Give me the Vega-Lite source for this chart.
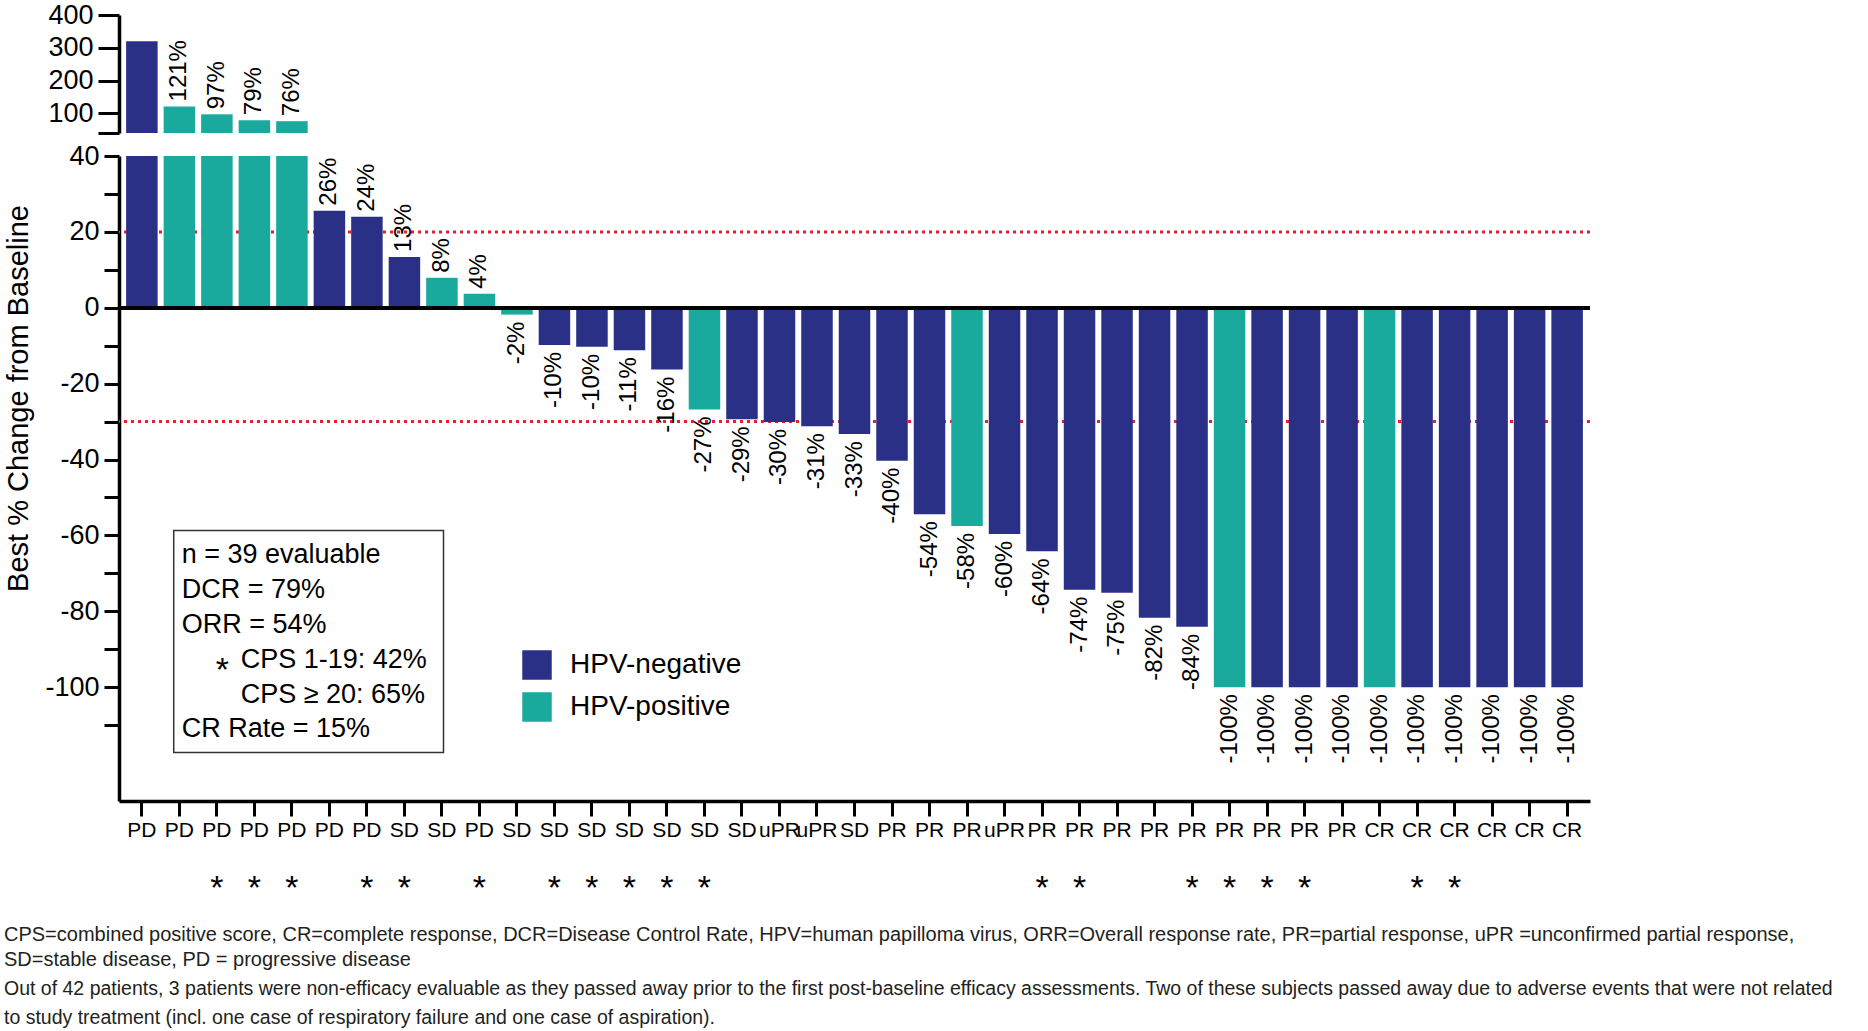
{
  "$schema": "https://vega.github.io/schema/vega-lite/v6.json",
  "background": "white",
  "padding": {"left": 3, "top": 1, "right": 4, "bottom": 4},
  "config": {
    "view": {"stroke": null},
    "font": "Liberation Sans",
    "scale": {"bandPaddingInner": 0.16, "bandPaddingOuter": 0.19},
    "axis": {"grid": false, "domainColor": "black", "tickColor": "black", "labelColor": "black", "titleColor": "black", "labelFont": "Liberation Sans", "titleFont": "Liberation Sans"},
    "text": {"font": "Liberation Sans", "color": "black"}
  },
  "data": {
    "values": [
      {"patient": 1, "value": 320, "hpv": "HPV-negative", "response": "PD", "cps": false, "label": ""},
      {"patient": 2, "value": 121, "hpv": "HPV-positive", "response": "PD", "cps": false, "label": "121%"},
      {"patient": 3, "value": 97, "hpv": "HPV-positive", "response": "PD", "cps": true, "label": "97%"},
      {"patient": 4, "value": 79, "hpv": "HPV-positive", "response": "PD", "cps": true, "label": "79%"},
      {"patient": 5, "value": 76, "hpv": "HPV-positive", "response": "PD", "cps": true, "label": "76%"},
      {"patient": 6, "value": 25.6, "hpv": "HPV-negative", "response": "PD", "cps": false, "label": "26%"},
      {"patient": 7, "value": 24, "hpv": "HPV-negative", "response": "PD", "cps": true, "label": "24%"},
      {"patient": 8, "value": 13.4, "hpv": "HPV-negative", "response": "SD", "cps": true, "label": "13%"},
      {"patient": 9, "value": 7.9, "hpv": "HPV-positive", "response": "SD", "cps": false, "label": "8%"},
      {"patient": 10, "value": 3.7, "hpv": "HPV-positive", "response": "PD", "cps": true, "label": "4%"},
      {"patient": 11, "value": -1.8, "hpv": "HPV-positive", "response": "SD", "cps": false, "label": "-2%"},
      {"patient": 12, "value": -9.8, "hpv": "HPV-negative", "response": "SD", "cps": true, "label": "-10%"},
      {"patient": 13, "value": -10.3, "hpv": "HPV-negative", "response": "SD", "cps": true, "label": "-10%"},
      {"patient": 14, "value": -11.2, "hpv": "HPV-negative", "response": "SD", "cps": true, "label": "-11%"},
      {"patient": 15, "value": -16.3, "hpv": "HPV-negative", "response": "SD", "cps": true, "label": "-16%"},
      {"patient": 16, "value": -26.8, "hpv": "HPV-positive", "response": "SD", "cps": true, "label": "-27%"},
      {"patient": 17, "value": -29.4, "hpv": "HPV-negative", "response": "SD", "cps": false, "label": "-29%"},
      {"patient": 18, "value": -30.1, "hpv": "HPV-negative", "response": "uPR", "cps": false, "label": "-30%"},
      {"patient": 19, "value": -31.2, "hpv": "HPV-negative", "response": "uPR", "cps": false, "label": "-31%"},
      {"patient": 20, "value": -33.3, "hpv": "HPV-negative", "response": "SD", "cps": false, "label": "-33%"},
      {"patient": 21, "value": -40.3, "hpv": "HPV-negative", "response": "PR", "cps": false, "label": "-40%"},
      {"patient": 22, "value": -54.4, "hpv": "HPV-negative", "response": "PR", "cps": false, "label": "-54%"},
      {"patient": 23, "value": -57.5, "hpv": "HPV-positive", "response": "PR", "cps": false, "label": "-58%"},
      {"patient": 24, "value": -59.6, "hpv": "HPV-negative", "response": "uPR", "cps": false, "label": "-60%"},
      {"patient": 25, "value": -64.2, "hpv": "HPV-negative", "response": "PR", "cps": true, "label": "-64%"},
      {"patient": 26, "value": -74.3, "hpv": "HPV-negative", "response": "PR", "cps": true, "label": "-74%"},
      {"patient": 27, "value": -75.1, "hpv": "HPV-negative", "response": "PR", "cps": false, "label": "-75%"},
      {"patient": 28, "value": -81.7, "hpv": "HPV-negative", "response": "PR", "cps": false, "label": "-82%"},
      {"patient": 29, "value": -84.1, "hpv": "HPV-negative", "response": "PR", "cps": true, "label": "-84%"},
      {"patient": 30, "value": -100, "hpv": "HPV-positive", "response": "PR", "cps": true, "label": "-100%"},
      {"patient": 31, "value": -100, "hpv": "HPV-negative", "response": "PR", "cps": true, "label": "-100%"},
      {"patient": 32, "value": -100, "hpv": "HPV-negative", "response": "PR", "cps": true, "label": "-100%"},
      {"patient": 33, "value": -100, "hpv": "HPV-negative", "response": "PR", "cps": false, "label": "-100%"},
      {"patient": 34, "value": -100, "hpv": "HPV-positive", "response": "CR", "cps": false, "label": "-100%"},
      {"patient": 35, "value": -100, "hpv": "HPV-negative", "response": "CR", "cps": true, "label": "-100%"},
      {"patient": 36, "value": -100, "hpv": "HPV-negative", "response": "CR", "cps": true, "label": "-100%"},
      {"patient": 37, "value": -100, "hpv": "HPV-negative", "response": "CR", "cps": false, "label": "-100%"},
      {"patient": 38, "value": -100, "hpv": "HPV-negative", "response": "CR", "cps": false, "label": "-100%"},
      {"patient": 39, "value": -100, "hpv": "HPV-negative", "response": "CR", "cps": false, "label": "-100%"}
    ]
  },
  "title": {
    "text": [
      "CPS=combined positive score, CR=complete response, DCR=Disease Control Rate, HPV=human papilloma virus, ORR=Overall response rate, PR=partial response, uPR =unconfirmed partial response,",
      "SD=stable disease, PD = progressive disease"
    ],
    "subtitle": [
      "Out of 42 patients, 3 patients were non-efficacy evaluable as they passed away prior to the first post-baseline efficacy assessments. Two of these subjects passed away due to adverse events that were not related",
      "to study treatment (incl. one case of respiratory failure and one case of aspiration)."
    ],
    "orient": "bottom",
    "anchor": "start",
    "frame": "bounds",
    "offset": 17,
    "font": "Liberation Sans",
    "fontSize": 20,
    "fontWeight": "normal",
    "lineHeight": 25,
    "color": "#231f20",
    "subtitleFont": "Liberation Sans",
    "subtitleFontSize": 19.5,
    "subtitleLineHeight": 28.5,
    "subtitleColor": "#231f20",
    "subtitlePadding": 10
  },
  "spacing": 0,
  "resolve": {"scale": {"x": "shared"}},
  "vconcat": [
    {
      "spacing": 7,
      "resolve": {"scale": {"x": "shared", "y": "independent"}},
      "vconcat": [
        {
          "width": 1471,
          "height": 118,
          "transform": [{"filter": "datum.value > 40"}],
          "encoding": {
            "x": {"field": "patient", "type": "ordinal", "axis": null},
            "y": {
              "field": "value",
              "type": "quantitative",
              "scale": {"domain": [40, 400], "nice": false, "zero": false},
              "axis": {
                "title": null,
                "values": [40, 100, 200, 300, 400],
                "labelExpr": "datum.value == 40 ? '' : '' + datum.value",
                "tickSize": 21,
                "tickWidth": 3,
                "domainWidth": 3.5,
                "labelFontSize": 27,
                "labelPadding": 5
              }
            }
          },
          "layer": [
            {
              "mark": {"type": "bar"},
              "encoding": {
                "y2": {"datum": 40},
                "color": {
                  "field": "hpv",
                  "type": "nominal",
                  "scale": {"domain": ["HPV-negative", "HPV-positive"], "range": ["#2b3087", "#1aa99d"]},
                  "legend": {
                    "title": null,
                    "orient": "none",
                    "legendX": 403,
                    "legendY": 635,
                    "padding": 0,
                    "symbolType": "square",
                    "symbolSize": 870,
                    "symbolStrokeWidth": 0,
                    "labelFontSize": 28,
                    "labelFont": "Liberation Sans",
                    "labelColor": "black",
                    "labelLimit": 400,
                    "labelOffset": 18,
                    "rowPadding": 12
                  }
                }
              }
            },
            {
              "mark": {"type": "text", "angle": 270, "align": "left", "baseline": "middle", "dx": 5, "fontSize": 24},
              "encoding": {"text": {"field": "label"}}
            }
          ]
        },
        {
          "width": 1471,
          "height": 645,
          "encoding": {
            "x": {
              "field": "patient",
              "type": "ordinal",
              "axis": {"labels": false, "title": null, "tickSize": 15, "tickWidth": 3, "domainWidth": 3.5}
            },
            "y": {
              "field": "value",
              "type": "quantitative",
              "scale": {"domain": [-130, 40], "nice": false},
              "axis": {
                "title": "Best % Change from Baseline",
                "titleFontSize": 29,
                "titleFontWeight": "normal",
                "titleX": -101,
                "titleY": 242,
                "titleBaseline": "middle",
                "titleAngle": 270,
                "values": [40, 30, 20, 10, 0, -10, -20, -30, -40, -50, -60, -70, -80, -90, -100, -110],
                "labelExpr": "(datum.value % 20 == 0 && datum.value >= -100) ? '' + datum.value : ''",
                "tickSize": 15,
                "tickWidth": 3,
                "domainWidth": 3.5,
                "labelFontSize": 27,
                "labelPadding": 5
              }
            }
          },
          "layer": [
            {
              "data": {"values": [{"threshold": 20}, {"threshold": -30}]},
              "mark": {"type": "rule", "color": "#e5202e", "strokeWidth": 3, "strokeDash": [3, 4]},
              "encoding": {"x": null, "y": {"field": "threshold", "type": "quantitative"}}
            },
            {
              "mark": {"type": "bar", "clip": true},
              "encoding": {
                "color": {"field": "hpv", "type": "nominal"}
              }
            },
            {
              "mark": {"type": "rule", "color": "black", "strokeWidth": 3.5},
              "encoding": {"x": null, "y": {"datum": 0}}
            },
            {
              "transform": [{"filter": "datum.value > 0 && datum.value <= 40"}],
              "mark": {"type": "text", "angle": 270, "align": "left", "baseline": "middle", "dx": 5, "fontSize": 24},
              "encoding": {"text": {"field": "label"}}
            },
            {
              "transform": [{"filter": "datum.value < 0"}],
              "mark": {"type": "text", "angle": 270, "align": "right", "baseline": "middle", "dx": -7, "fontSize": 24},
              "encoding": {"text": {"field": "label"}}
            },
            {
              "data": {"values": [{"first": 2, "last": 9, "top": -58.7, "bottom": -117.2}]},
              "mark": {"type": "rect", "fill": "white", "fillOpacity": 0, "stroke": "#333333", "strokeWidth": 1.5},
              "encoding": {
                "x": {"field": "first", "type": "ordinal", "bandPosition": 0.32},
                "x2": {"field": "last", "bandPosition": 0.55},
                "y": {"field": "top", "type": "quantitative"},
                "y2": {"field": "bottom"}
              }
            },
            {
              "data": {"values": [{"first": 2, "stats": -67.4, "cps": -94.9, "cr": -113.2}]},
              "mark": {
                "type": "text",
                "align": "left",
                "baseline": "alphabetic",
                "dx": 8,
                "fontSize": 27,
                "lineHeight": 34.8,
                "text": ["n = 39 evaluable", "DCR = 79%", "ORR = 54%"]
              },
              "encoding": {
                "x": {"field": "first", "type": "ordinal", "bandPosition": 0.32},
                "y": {"field": "stats", "type": "quantitative"}
              }
            },
            {
              "data": {"values": [{"first": 2, "stats": -67.4, "cps": -94.9, "cr": -113.2}]},
              "mark": {
                "type": "text",
                "align": "left",
                "baseline": "alphabetic",
                "dx": 42,
                "dy": 13,
                "fontSize": 34,
                "text": "*"
              },
              "encoding": {
                "x": {"field": "first", "type": "ordinal", "bandPosition": 0.32},
                "y": {"field": "cps", "type": "quantitative"}
              }
            },
            {
              "data": {"values": [{"first": 2, "stats": -67.4, "cps": -94.9, "cr": -113.2}]},
              "mark": {
                "type": "text",
                "align": "left",
                "baseline": "alphabetic",
                "dx": 67,
                "fontSize": 27,
                "lineHeight": 34.8,
                "text": ["CPS 1-19: 42%", "CPS \u2265 20: 65%"]
              },
              "encoding": {
                "x": {"field": "first", "type": "ordinal", "bandPosition": 0.32},
                "y": {"field": "cps", "type": "quantitative"}
              }
            },
            {
              "data": {"values": [{"first": 2, "stats": -67.4, "cps": -94.9, "cr": -113.2}]},
              "mark": {
                "type": "text",
                "align": "left",
                "baseline": "alphabetic",
                "dx": 8,
                "fontSize": 27,
                "text": "CR Rate = 15%"
              },
              "encoding": {
                "x": {"field": "first", "type": "ordinal", "bandPosition": 0.32},
                "y": {"field": "cr", "type": "quantitative"}
              }
            }
          ]
        }
      ]
    },
    {
      "width": 1471,
      "height": 90,
      "encoding": {
        "x": {"field": "patient", "type": "ordinal", "axis": null}
      },
      "layer": [
        {
          "mark": {"type": "text", "baseline": "middle", "fontSize": 21, "dy": -32},
          "encoding": {"text": {"field": "response"}}
        },
        {
          "transform": [{"filter": "datum.cps"}],
          "mark": {"type": "text", "text": "*", "baseline": "middle", "fontSize": 34, "dy": 26}
        }
      ]
    }
  ]
}
